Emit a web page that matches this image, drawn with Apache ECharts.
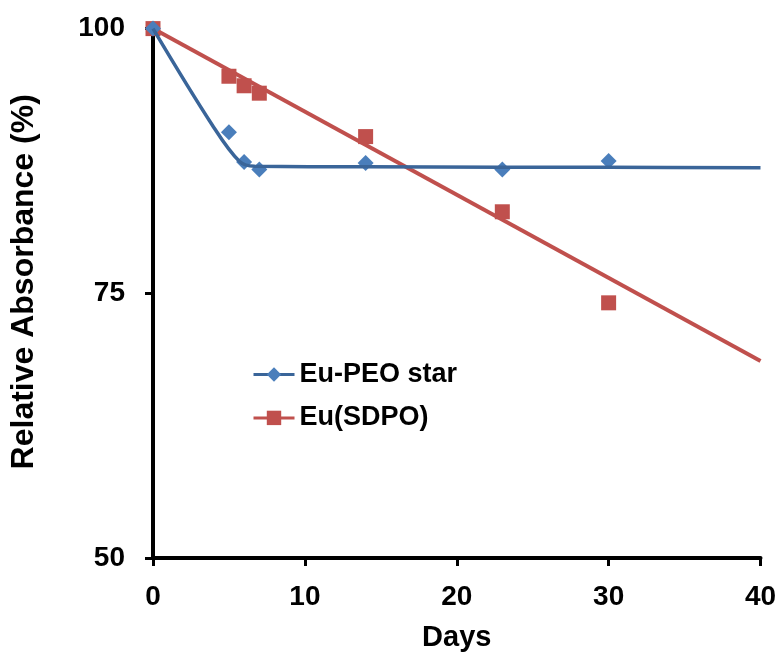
<!DOCTYPE html>
<html>
<head>
<meta charset="utf-8">
<script src="https://cdn.jsdelivr.net/npm/echarts@6/dist/echarts.min.js"></script>
<style>
  html, body { margin: 0; padding: 0; background: #fff; }
  #chart { width: 782px; height: 657px; }
</style>
</head>
<body>
<div id="chart"></div>
<script>
// Measurement days
const days = [0, 5, 6, 7, 14, 23, 30];
// Relative absorbance (%) measured for each sample
const peoStar = [100, 90.2, 87.4, 86.7, 87.3, 86.7, 87.5];
const sdpo = [100, 95.5, 94.6, 93.9, 89.8, 82.7, 74.1];
// Fitted trend curves
const peoFitDays = [0, 3.9, 5.7, 6.7, 14, 23, 30, 40];
const peoFitValues = [100, 90.9, 87.45, 87.0, 86.95, 86.9, 86.9, 86.85];
const sdpoFitDays = [0, 40];
const sdpoFitValues = [100, 68.6];
// Axis ticks
const xTicks = [0, 10, 20, 30, 40];
const yTicks = [50, 75, 100];

const FONT = '"Liberation Sans", Arial, sans-serif';
const BLUE_LINE = '#3A6599';
const BLUE_MARK = '#4A7EBB';
const RED = '#C0504D';

const pairs = (xs, ys) => xs.map((x, i) => [x, ys[i]]);
// Fit lines carry a series-level symbol for the legend, hidden on each point
const hiddenPoints = (xs, ys) => xs.map((x, i) => ({ value: [x, ys[i]], symbol: 'none' }));

const chart = echarts.init(document.getElementById('chart'), null, { renderer: 'canvas' });

chart.setOption({
  animation: false,
  backgroundColor: '#ffffff',
  grid: { left: 152, right: 21.5, top: 28.6, bottom: 98, containLabel: false },
  legend: {
    data: ['Eu-PEO star', 'Eu(SDPO)'],
    orient: 'vertical',
    left: 252,
    top: 359.5,
    padding: 0,
    itemWidth: 41,
    itemHeight: 18,
    itemGap: 13.4,
    lineStyle: { width: 3 },
    textStyle: { fontFamily: FONT, fontWeight: 'bold', fontSize: 27, color: '#000', lineHeight: 30 }
  },
  xAxis: {
    type: 'value',
    min: xTicks[0],
    max: xTicks[xTicks.length - 1],
    interval: 10,
    name: 'Days',
    nameLocation: 'middle',
    nameGap: 65,
    nameTextStyle: { fontFamily: FONT, fontWeight: 'bold', fontSize: 29, color: '#000' },
    axisLine: { onZero: false, lineStyle: { color: '#000', width: 4 } },
    axisTick: { show: true, inside: false, length: 8, lineStyle: { color: '#000', width: 3 } },
    axisLabel: { margin: 25, fontFamily: FONT, fontWeight: 'bold', fontSize: 28, color: '#000' },
    splitLine: { show: false }
  },
  yAxis: {
    type: 'value',
    min: yTicks[0],
    max: yTicks[yTicks.length - 1],
    interval: 25,
    name: 'Relative Absorbance (%)',
    nameLocation: 'middle',
    nameGap: 113,
    nameRotate: 90,
    nameTextStyle: { fontFamily: FONT, fontWeight: 'bold', fontSize: 32, color: '#000', padding: [0, 0, 0, 23] },
    axisLine: { show: true, onZero: false, lineStyle: { color: '#000', width: 4 } },
    axisTick: { show: true, inside: false, length: 8, lineStyle: { color: '#000', width: 3 } },
    axisLabel: { margin: 28, fontFamily: FONT, fontWeight: 'bold', fontSize: 28, color: '#000' },
    splitLine: { show: false }
  },
  series: [
    {
      name: 'Eu(SDPO)',
      type: 'line',
      symbol: 'rect',
      data: hiddenPoints(sdpoFitDays, sdpoFitValues),
      lineStyle: { color: RED, width: 4 },
      itemStyle: { color: RED },
      z: 2
    },
    {
      name: 'Eu-PEO star',
      type: 'line',
      symbol: 'diamond',
      smooth: 0.35,
      data: hiddenPoints(peoFitDays, peoFitValues),
      lineStyle: { color: BLUE_LINE, width: 3.5 },
      itemStyle: { color: BLUE_MARK },
      z: 4
    },
    {
      name: 'Eu(SDPO)',
      type: 'scatter',
      symbol: 'rect',
      symbolSize: 15,
      data: pairs(days, sdpo),
      itemStyle: { color: RED, opacity: 1 },
      z: 3
    },
    {
      name: 'Eu-PEO star',
      type: 'scatter',
      symbol: 'diamond',
      symbolSize: 16,
      data: pairs(days, peoStar),
      itemStyle: { color: BLUE_MARK, opacity: 1 },
      z: 3
    }
  ]
});
</script>
</body>
</html>
